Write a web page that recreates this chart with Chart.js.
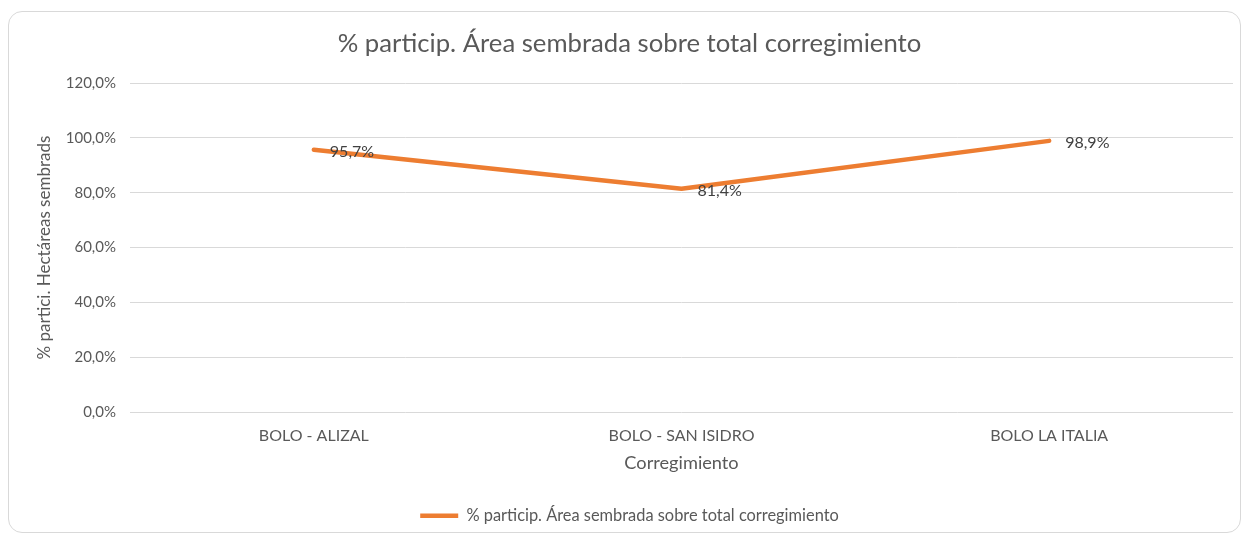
<!DOCTYPE html>
<html>
<head>
<meta charset="utf-8">
<script src="https://cdn.jsdelivr.net/npm/chart.js@4.4.1/dist/chart.umd.min.js"></script>
<style>
  html, body { margin: 0; padding: 0; background: #ffffff; }
  #wrap { position: relative; width: 1244px; height: 540px; overflow: hidden; }
  #frame { position: absolute; left: 8px; top: 11px; width: 1233px; height: 522px;
           border: 1px solid #d9d9d9; border-radius: 14px; box-sizing: border-box; }
  canvas { position: absolute; left: 0; top: 0; }
</style>
</head>
<body>
<div id="wrap">
  <div id="frame"></div>
  <canvas id="c" width="1244" height="540"></canvas>
</div>
<script>
const categories = ["BOLO - ALIZAL", "BOLO - SAN ISIDRO", "BOLO LA ITALIA"];
const seriesName = "% particip. Área sembrada sobre total corregimiento";
const seriesValues = [95.7, 81.4, 98.9];
const yTicks = [0, 20, 40, 60, 80, 100, 120];
const chartTitle = "% particip. Área sembrada sobre total corregimiento";
const yTitle = "% partici. Hectáreas sembrads";
const xTitle = "Corregimiento";

const FONT = "Lato, 'Noto Sans', sans-serif";
const TXT = "#595959";
const ORANGE = "#ED7D31";

function fmtPct(v, d) {
  return v.toFixed(d).replace(".", ",") + "%";
}

const labelPlugin = {
  id: "pointLabels",
  afterDatasetsDraw(chart) {
    const ctx = chart.ctx;
    const meta = chart.getDatasetMeta(0);
    ctx.save();
    ctx.font = "16px " + FONT;
    ctx.fillStyle = "#404040";
    ctx.textAlign = "left";
    ctx.textBaseline = "middle";
    meta.data.forEach((pt, i) => {
      ctx.fillText(fmtPct(seriesValues[i], 1), pt.x + 16, pt.y + 2);
    });
    ctx.restore();
  }
};

new Chart(document.getElementById("c"), {
  type: "line",
  data: {
    labels: categories,
    datasets: [{
      label: seriesName,
      data: seriesValues,
      borderColor: ORANGE,
      backgroundColor: ORANGE,
      borderWidth: 4.5,
      pointRadius: 0,
      pointHoverRadius: 0,
      tension: 0,
      fill: false,
      borderCapStyle: "round",
      borderJoinStyle: "round"
    }]
  },
  options: {
    responsive: false,
    animation: false,
    devicePixelRatio: 1,
    layout: { padding: { left: 26, right: 11, top: 0, bottom: 6 } },
    plugins: {
      title: {
        display: true,
        text: chartTitle,
        color: TXT,
        font: { family: FONT, size: 25.7, weight: "normal", lineHeight: 1.2 },
        padding: { top: 28.6, bottom: 23.6 }
      },
      legend: {
        display: true,
        position: "bottom",
        labels: {
          color: TXT,
          font: { family: FONT, size: 16.4 },
          usePointStyle: true,
          pointStyle: "line",
          pointStyleWidth: 38,
          padding: 15
        }
      },
      tooltip: { enabled: false }
    },
    scales: {
      x: {
        offset: true,
        grid: { display: false, drawTicks: false },
        border: { display: false },
        ticks: { color: TXT, font: { family: FONT, size: 16 }, padding: 14.4, maxRotation: 0 },
        title: { display: true, text: xTitle, color: TXT,
                 font: { family: FONT, size: 18.2 }, padding: { top: 0, bottom: 18.4 } },
        afterFit(s) { s.height = 80.6; }
      },
      y: {
        min: 0, max: 120,
        afterBuildTicks(s) { s.ticks = yTicks.map(v => ({ value: v })); },
        grid: { color: "#d9d9d9", lineWidth: 1, drawTicks: false },
        border: { display: false },
        ticks: { color: TXT, font: { family: FONT, size: 15 }, padding: 14,
                 callback: v => fmtPct(v, 1) },
        title: { display: true, text: yTitle, color: TXT,
                 font: { family: FONT, size: 17 }, padding: { top: 8.8, bottom: 0 } },
        afterFit(s) { s.width = 104; }
      }
    }
  },
  plugins: [labelPlugin]
});
</script>
</body>
</html>
